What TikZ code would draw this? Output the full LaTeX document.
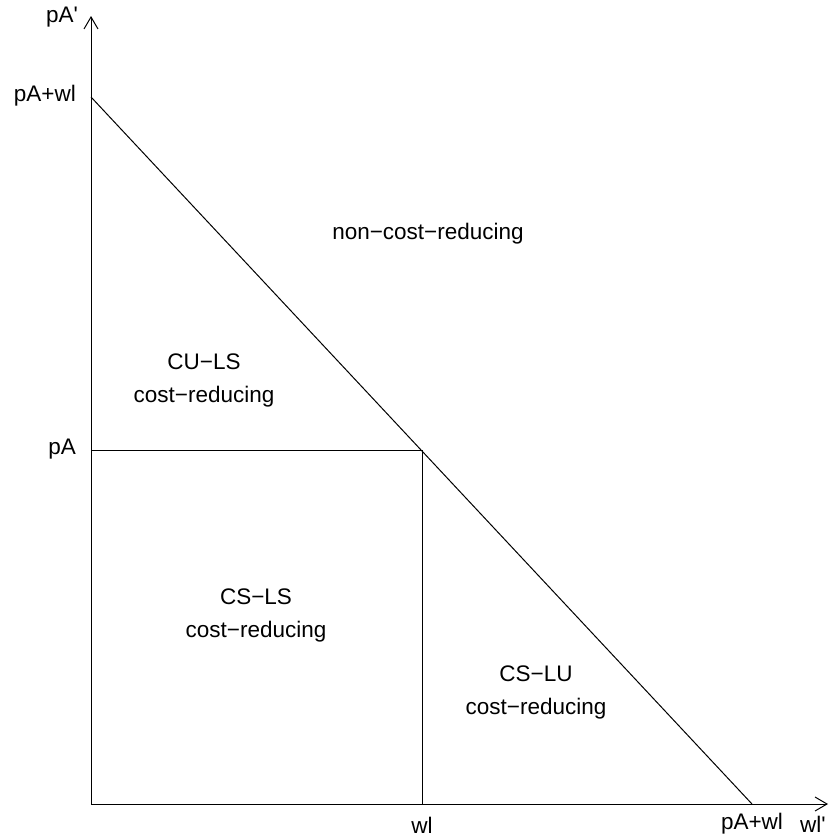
\documentclass[tikz,border=0pt]{standalone}
\usepackage{fontspec}
\setmainfont{Liberation Sans}
\usetikzlibrary{arrows.meta}
\begin{document}
\begin{tikzpicture}[x=1pt,y=-1pt,
  lbl/.style={inner sep=0pt,font=\fontsize{22.5}{33}\selectfont,align=center},
  ln/.style={line width=1pt},
  axarrow/.style={ln,-{Straight Barb[length=12pt,width=14pt,line width=1pt]}}]
\useasboundingbox (0,0) rectangle (840,838);
\coordinate (O) at (91,804);
\coordinate (ytip) at (91,16);
\coordinate (xtip) at (828,804);
\coordinate (ytop) at (91,97);
\coordinate (xend) at (752,804);
\coordinate (ypa) at (91,450.5);
\coordinate (xwl) at (422,804);
\coordinate (C) at (422,450.5);
\draw[axarrow] (O) -- (ytip);
\draw[axarrow] (O) -- (xtip);
\draw[ln] (ytop) -- (xend);
\draw[ln] (ypa) -- (C) -- (xwl);
\node[lbl] (lyA) at (62,17) {pA\textquotesingle};
\node[lbl,anchor=east] (lypw) at (76,96) {pA+wl};
\node[lbl,anchor=east] (lypa) at (76,449) {pA};
\node[lbl] (lxwl) at (422,825) {wl};
\node[lbl] (lxpw) at (752,824) {pA+wl};
\node[lbl] (lxw) at (813,824) {wl\textquotesingle};
\node[lbl] (ncr) at (428,234) {non−cost−reducing};
\node[lbl] (culs) at (204,380) {CU−LS\\cost−reducing};
\node[lbl] (csls) at (256,615) {CS−LS\\cost−reducing};
\node[lbl] (cslu) at (536,692) {CS−LU\\cost−reducing};
\end{tikzpicture}
\end{document}
